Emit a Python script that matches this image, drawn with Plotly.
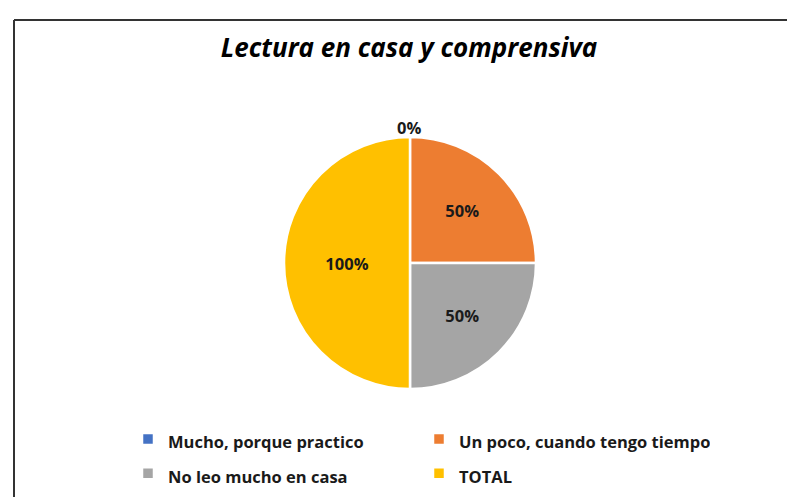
import plotly.graph_objects as go

categories = ["Mucho, porque practico", "Un poco, cuando tengo tiempo", "No leo mucho en casa", "TOTAL"]
values = [0, 0.5, 0.5, 1.0]
text_labels = ["0%", "50%", "50%", "100%"]
colors = ["#4472C4", "#ED7D31", "#A5A5A5", "#FFC000"]

W, H = 795, 497
cx, cy, r = 402, 255, 126

legend_labels = [f"<span style='font-size:16.5px'>{c}</span>" for c in categories]

fig = go.Figure(go.Pie(
    labels=legend_labels,
    values=values,
    text=text_labels,
    textinfo="text",
    textposition=["none", "inside", "inside", "inside"],
    insidetextorientation="horizontal",
    sort=False,
    direction="clockwise",
    rotation=0,
    marker=dict(colors=colors, line=dict(color="white", width=2.5)),
    textfont=dict(family="Open Sans", size=16.5, color="#1a1a1a", weight="bold"),
    domain=dict(x=[(cx - r) / W, (cx + r) / W], y=[(H - cy - r) / H, (H - cy + r) / H]),
    showlegend=True,
))

fig.update_layout(
    width=W, height=H,
    margin=dict(l=0, r=0, t=0, b=0),
    paper_bgcolor="white",
    title=dict(text="<i><b>Lectura en casa y comprensiva</b></i>", x=401 / W, xanchor="center",
               y=1 - 40 / H, yanchor="middle", yref="paper",
               font=dict(family="Open Sans", size=26, color="#000000")),
    legend=dict(orientation="h", x=120 / W, xanchor="left", y=1 - 409 / H, yanchor="top",
                entrywidth=246, font=dict(family="Open Sans", size=24, color="#1a1a1a", weight="bold"),
                traceorder="normal"),
    annotations=[
        dict(text=text_labels[0], xref="paper", yref="paper", x=(cx - 1) / W, y=1 - 119 / H,
             showarrow=False, xanchor="center", yanchor="middle",
             font=dict(family="Open Sans", size=16.5, color="#1a1a1a", weight="bold")),
    ],
    shapes=[
        dict(type="line", xref="paper", yref="paper", x0=6 / W, x1=1, y0=1 - 12 / H, y1=1 - 12 / H,
             line=dict(color="#333333", width=2)),
        dict(type="line", xref="paper", yref="paper", x0=6 / W, x1=6 / W, y0=0, y1=1 - 12 / H,
             line=dict(color="#333333", width=2)),
    ],
)

fig.write_html("out.html")
